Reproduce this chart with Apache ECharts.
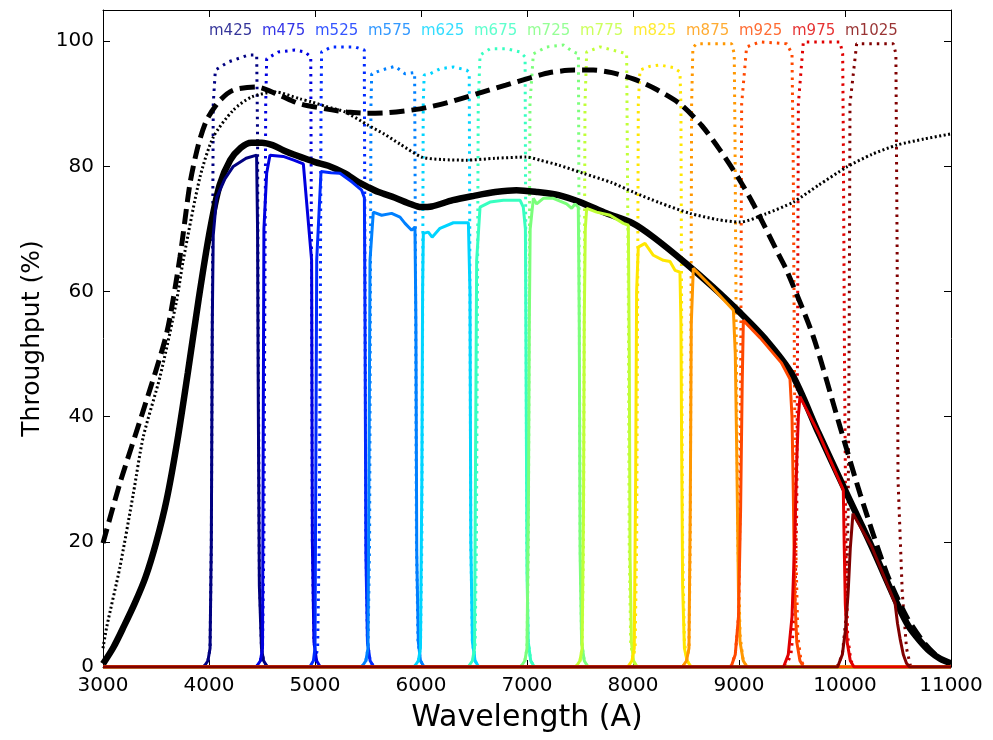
<!DOCTYPE html>
<html><head><meta charset="utf-8">
<script src="https://cdn.jsdelivr.net/npm/echarts@6/dist/echarts.min.js"></script>
<style>html,body{margin:0;padding:0;background:#fff}#c{width:993px;height:740px}</style>
</head><body><div id="c"></div>
<script>
// ---- data (wavelength in A, throughput in %) ----
const xTicks = [3000,4000,5000,6000,7000,8000,9000,10000,11000];
const yTicks = [0,20,40,60,80,100];

const totalThroughput = [[3000,0.5],[3100,3.2],[3200,6.6],[3300,10.2],[3400,14.3],[3500,19.8],[3600,26.7],[3700,36],[3800,47],[3900,58.5],[4000,69],[4100,77],[4200,81],[4300,83],[4400,83.8],[4500,83.8],[4600,83.4],[4700,82.6],[4800,81.9],[4900,81.3],[5000,80.7],[5125,80.1],[5283,78.9],[5400,77.6],[5500,76.7],[5600,75.9],[5755,75],[5900,74],[6000,73.5],[6100,73.6],[6300,74.6],[6500,75.3],[6700,75.9],[6900,76.2],[7100,75.9],[7300,75.4],[7500,74.3],[7750,72.5],[8000,70.9],[8200,68.6],[8500,64.5],[8750,60.8],[9000,56.8],[9250,52.4],[9500,46.8],[9750,37.4],[10000,28.3],[10250,19.3],[10500,9.8],[10600,6.5],[10700,4.3],[10800,2.5],[10900,1.3],[11000,0.6]];

const detectorQE = [[3000,19.8],[3160,29.4],[3380,41],[3600,53.3],[3726,65.5],[3821,77.3],[3900,83.5],[3978,87.4],[4100,90.5],[4229,92.2],[4449,92.7],[4650,91.5],[4858,90],[5100,89.2],[5300,88.7],[5487,88.5],[5700,88.6],[5991,89.2],[6250,90.2],[6525,91.6],[6800,93],[6997,94],[7217,95],[7450,95.4],[7626,95.4],[7800,95],[8003,94],[8200,92.5],[8443,90],[8650,86.5],[8821,82.6],[9000,78],[9135,74],[9387,65.5],[9450,63.4],[9701,52.8],[9953,38.4],[10142,27.7],[10393,15],[10582,8],[10750,3.8],[10900,1.3],[11000,0.6]];

const opticsThroughput = [[3000,3],[3035,6.4],[3160,16],[3286,27.7],[3380,36.8],[3538,46.4],[3695,58.6],[3757,65],[3915,78.3],[4041,84.7],[4229,89],[4402,91.1],[4623,91.9],[4858,90.8],[4969,90.3],[5100,89.6],[5283,88.7],[5500,86.6],[5650,85.2],[5800,83.6],[6006,81.5],[6200,81.1],[6431,81],[6700,81.3],[6997,81.5],[7123,81],[7300,80.2],[7531,78.9],[7800,77.4],[8003,75.9],[8250,74.2],[8538,72.5],[8800,71.5],[9009,71.1],[9250,72.4],[9512,74.3],[9750,77],[10016,79.9],[10250,81.9],[10487,83.4],[10750,84.4],[11000,85.2]];

const filterNames = ['m425','m475','m525','m575','m625','m675','m725','m775','m825','m875','m925','m975','m1025'];
const filterStarts = [4000,4500,5000,5500,6000,6500,7000,7500,8000,8500,9000,9500,10000];
const filterColors = ['#000080','#0000e0','#002aff','#0080ff','#00d4ff','#37ffc0','#7bff7b','#c0ff37','#ffe600','#ff9700','#ff4800','#e00000','#800000'];

// filter transmission (dotted)
const m425Trans = [[3950,0],[3990,1],[4010,3],[4022,20],[4031,55],[4040,90],[4060,95.4],[4182,96.7],[4371,97.8],[4450,97.8],[4458,85],[4465,50],[4475,15],[4495,3],[4515,1],[4550,0]];
const m475Trans = [[4445,0],[4485,1],[4505,3],[4518,20],[4526,55],[4535,90],[4544,97.2],[4654,98.3],[4811,98.6],[4906,98.3],[4960,97.5],[4968,60],[4975,20],[4990,4],[5015,1],[5050,0]];
const m525Trans = [[4960,0],[5000,1],[5025,3],[5040,20],[5050,55],[5057,90],[5062,98.3],[5157,99.1],[5377,99.1],[5465,98.6],[5472,60],[5480,20],[5495,4],[5520,1],[5555,0]];
const m575Trans = [[5440,0],[5480,1],[5500,3],[5515,20],[5522,55],[5528,90],[5535,94.8],[5629,95.4],[5755,96],[5849,94.8],[5940,95],[5949,60],[5957,20],[5972,4],[5995,1],[6030,0]];
const m625Trans = [[5935,0],[5975,1],[5995,3],[6008,20],[6015,55],[6021,90],[6030,94.6],[6085,94.8],[6179,95.6],[6305,95.9],[6431,95.4],[6455,95],[6462,60],[6470,20],[6485,4],[6510,1],[6545,0]];
const m675Trans = [[6450,0],[6490,1],[6510,3],[6523,20],[6532,55],[6540,90],[6557,97.8],[6651,98.8],[6808,98.8],[6934,98.3],[6982,97.5],[6990,60],[6998,20],[7012,4],[7035,1],[7070,0]];
const m725Trans = [[6940,0],[6980,1],[7000,3],[7013,20],[7020,55],[7028,90],[7060,98],[7186,99.1],[7343,99.4],[7437,98.3],[7485,98],[7493,60],[7501,20],[7515,4],[7540,1],[7575,0]];
const m775Trans = [[7460,0],[7500,1],[7520,3],[7533,20],[7540,55],[7547,90],[7563,98.3],[7689,99.1],[7877,98.3],[7940,98],[7956,60],[7964,20],[7978,4],[8000,1],[8035,0]];
const m825Trans = [[7955,0],[7995,1],[8020,3],[8035,20],[8043,55],[8050,90],[8066,95.4],[8160,96],[8255,96.2],[8380,95.8],[8443,95.1],[8452,90],[8459,55],[8468,20],[8485,4],[8510,1],[8550,0]];
const m875Trans = [[8465,0],[8505,1],[8528,3],[8540,20],[8547,55],[8553,90],[8565,99],[8600,99.6],[8931,99.6],[8955,98],[8962,85],[8975,50],[8990,20],[9010,5],[9040,1],[9075,0]];
const m925Trans = [[8920,0],[8965,2],[8995,8],[9010,25],[9018,55],[9025,90],[9072,99.1],[9198,99.9],[9450,99.6],[9500,98],[9512,80],[9522,50],[9535,20],[9555,5],[9585,1],[9620,0]];
const m975Trans = [[9440,0],[9490,2],[9525,8],[9545,25],[9553,55],[9560,90],[9607,99.9],[9953,99.9],[9978,98],[9984,85],[9995,50],[10008,20],[10025,5],[10055,1],[10090,0]];
const m1025Trans = [[9925,0],[9975,2],[10010,8],[10030,25],[10040,55],[10047,90],[10110,99.6],[10456,99.6],[10480,98],[10492,66],[10500,30],[10540,12],[10580,3],[10620,0]];

// filter x total throughput (solid)
const m425Thru = [[3000,0],[3950,0],[3990,1],[4010,3],[4022,20],[4031,55],[4040,69],[4072,75],[4150,78],[4229,80],[4350,81.3],[4449,81.8],[4458,70],[4465,42],[4475,13],[4495,3],[4515,1],[4550,0],[11000,0]];
const m475Thru = [[3000,0],[4445,0],[4485,1],[4505,3],[4512,40],[4518,70],[4544,78.9],[4575,81.8],[4700,81.6],[4800,81],[4890,80.4],[4968,65],[4975,20],[4990,4],[5015,1],[5050,0],[11000,0]];
const m525Thru = [[3000,0],[4950,0],[4985,1],[5000,3],[5010,40],[5016,65],[5057,79.2],[5150,79],[5236,78.9],[5350,77.5],[5440,76.2],[5466,75],[5472,55],[5480,18],[5495,4],[5520,1],[5555,0],[11000,0]];
const m575Thru = [[3000,0],[5440,0],[5480,1],[5500,3],[5512,40],[5519,65],[5550,72.7],[5629,72.2],[5723,72.5],[5802,71.9],[5849,70.9],[5912,69.8],[5943,70.3],[5952,55],[5960,18],[5975,4],[5995,1],[6030,0],[11000,0]];
const m625Thru = [[3000,0],[5935,0],[5975,1],[5995,3],[6008,30],[6015,60],[6022,69.3],[6069,69.5],[6105,68.7],[6179,70.1],[6305,71],[6447,71],[6462,60],[6470,20],[6485,4],[6510,1],[6545,0],[11000,0]];
const m675Thru = [[3000,0],[6445,0],[6485,1],[6505,3],[6515,35],[6525,65],[6557,73.5],[6651,74.3],[6777,74.6],[6934,74.6],[6965,73.5],[6985,70],[6992,45],[7000,15],[7012,4],[7035,1],[7070,0],[11000,0]];
const m725Thru = [[3000,0],[6940,0],[6980,1],[7000,3],[7013,25],[7022,55],[7030,70],[7060,74.9],[7091,74],[7154,74.9],[7248,74.9],[7374,74],[7421,73.3],[7453,74],[7484,73.5],[7493,55],[7501,18],[7515,4],[7540,1],[7575,0],[11000,0]];
const m775Thru = [[3000,0],[7460,0],[7500,1],[7520,3],[7533,25],[7540,55],[7550,70],[7563,73.3],[7657,72.7],[7783,72.2],[7909,70.9],[7956,70.6],[7965,50],[7972,18],[7985,4],[8005,1],[8040,0],[11000,0]];
const m825Thru = [[3000,0],[7950,0],[7990,1],[8012,3],[8025,30],[8034,60],[8050,67.1],[8113,67.7],[8192,65.8],[8286,65],[8349,64.8],[8396,63.4],[8443,63.1],[8452,55],[8459,35],[8468,13],[8485,3],[8510,1],[8550,0],[11000,0]];
const m875Thru = [[3000,0],[8465,0],[8505,1],[8528,3],[8540,25],[8550,55],[8569,63.7],[8750,60.6],[8947,57],[8965,50],[8978,35],[8995,12],[9010,4],[9040,1],[9075,0],[11000,0]];
const m925Thru = [[3000,0],[8925,0],[8965,2],[8995,8],[9015,25],[9030,45],[9041,55.4],[9200,52.6],[9400,48.6],[9481,46],[9500,40],[9512,28],[9525,12],[9545,4],[9575,1],[9610,0],[11000,0]];
const m975Thru = [[3000,0],[9420,0],[9465,2],[9500,8],[9525,20],[9545,33],[9560,40],[9575,43.2],[9750,37.4],[9984,28.3],[9992,20],[10003,10],[10020,4],[10050,1],[10085,0],[11000,0]];
const m1025Thru = [[3000,0],[9930,0],[9975,2],[10005,6],[10030,12],[10050,19],[10075,24.5],[10250,19.3],[10472,10.2],[10495,7],[10520,4.5],[10550,2],[10580,0.6],[10610,0],[11000,0]];

const filterTrans = [m425Trans,m475Trans,m525Trans,m575Trans,m625Trans,m675Trans,m725Trans,m775Trans,m825Trans,m875Trans,m925Trans,m975Trans,m1025Trans];
const filterThru = [m425Thru,m475Thru,m525Thru,m575Thru,m625Thru,m675Thru,m725Thru,m775Thru,m825Thru,m875Thru,m925Thru,m975Thru,m1025Thru];
const labelLevel = 101.7;

// ---- chart ----
const FONT = 'DejaVu Sans';
const series = [];
filterTrans.forEach((d, i) => series.push({
  type: 'line', data: d, showSymbol: false, silent: true, z: 2,
  lineStyle: { color: filterColors[i], width: 3, type: [2.5, 5] }
}));
series.push({ type: 'line', data: detectorQE, showSymbol: false, z: 3, smooth: 0.25,
  lineStyle: { color: '#000', width: 5, type: [15, 7] } });
series.push({ type: 'line', data: opticsThroughput, showSymbol: false, z: 3, smooth: 0.25,
  lineStyle: { color: '#000', width: 3, type: [2, 2.5] } });
series.push({ type: 'line', data: totalThroughput, showSymbol: false, z: 3, smooth: 0.3,
  lineStyle: { color: '#000', width: 6.5 } });
filterThru.forEach((d, i) => series.push({
  type: 'line', data: d, showSymbol: false, z: 4,
  lineStyle: { color: filterColors[i], width: 3 }
}));
series.push({
  type: 'scatter', symbolSize: 0, z: 5, silent: true,
  data: filterNames.map((n, i) => ({
    value: [filterStarts[i], labelLevel], name: n,
    label: { show: true, formatter: n, position: 'right', distance: 0, color: filterColors[i],
      fontFamily: FONT, fontSize: 15, align: 'left', verticalAlign: 'middle' }
  }))
});

const tickLabel = { fontFamily: FONT, fontSize: 20, color: '#000' };
const option = {
  animation: false,
  backgroundColor: '#fff',
  grid: { left: 103, right: 42, top: 10, bottom: 73, show: false },
  xAxis: [{
    type: 'value', min: 3000, max: 11000, interval: 1000, position: 'bottom',
    name: 'Wavelength (A)', nameLocation: 'middle', nameGap: 36,
    nameTextStyle: { fontFamily: FONT, fontSize: 30, color: '#000' },
    axisLine: { show: true, onZero: false, lineStyle: { color: '#000', width: 1 } },
    axisTick: { show: true, inside: true, length: 7, lineStyle: { color: '#000' } },
    axisLabel: Object.assign({ margin: 9,
      formatter: v => (xTicks.indexOf(v) >= 0 ? String(v) : '') }, tickLabel),
    splitLine: { show: false }
  }, {
    type: 'value', min: 3000, max: 11000, interval: 1000, position: 'top',
    axisLine: { show: true, onZero: false, lineStyle: { color: '#000', width: 1 } },
    axisTick: { show: true, inside: true, length: 7, lineStyle: { color: '#000' } },
    axisLabel: { show: false }, splitLine: { show: false }
  }],
  yAxis: [{
    type: 'value', min: 0, max: 105, interval: 20, position: 'left',
    name: 'Throughput (%)', nameLocation: 'middle', nameGap: 53,
    nameTextStyle: { fontFamily: FONT, fontSize: 25, color: '#000' },
    axisLine: { show: true, onZero: false, lineStyle: { color: '#000', width: 1 } },
    axisTick: { show: true, inside: true, length: 7, lineStyle: { color: '#000' } },
    axisLabel: Object.assign({ margin: 9, showMaxLabel: false,
      formatter: v => (yTicks.indexOf(v) >= 0 ? String(v) : '') }, tickLabel),
    splitLine: { show: false }
  }, {
    type: 'value', min: 0, max: 105, interval: 20, position: 'right',
    axisLine: { show: true, onZero: false, lineStyle: { color: '#000', width: 1 } },
    axisTick: { show: true, inside: true, length: 7, lineStyle: { color: '#000' } },
    axisLabel: { show: false }, splitLine: { show: false }
  }],
  series: series
};
const chart = echarts.init(document.getElementById('c'), null, { renderer: 'canvas' });
chart.setOption(option);
</script></body></html>
